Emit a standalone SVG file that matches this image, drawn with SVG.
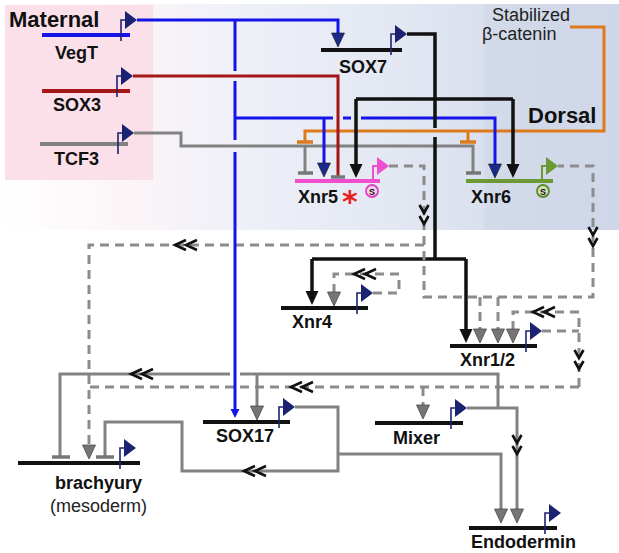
<svg xmlns="http://www.w3.org/2000/svg" width="619" height="553" viewBox="0 0 619 553">
<defs>
<linearGradient id="bg" x1="0" y1="0" x2="619" y2="0" gradientUnits="userSpaceOnUse">
<stop offset="0" stop-color="#ffffff"/>
<stop offset="0.2" stop-color="#fcf5f8"/>
<stop offset="0.4" stop-color="#eef0f8"/>
<stop offset="0.65" stop-color="#e2e7f2"/>
<stop offset="0.78" stop-color="#dae0ee"/>
<stop offset="0.785" stop-color="#d3dbea"/>
<stop offset="1" stop-color="#ced6e8"/>
</linearGradient>
<marker id="aBlack" markerUnits="userSpaceOnUse" markerWidth="14" markerHeight="13" refX="4" refY="6.5" orient="auto" overflow="visible"><path d="M0,0 L14,6.5 L0,13 z" fill="#111"/></marker>
<marker id="aNavy" markerUnits="userSpaceOnUse" markerWidth="14" markerHeight="13" refX="4" refY="6.5" orient="auto" overflow="visible"><path d="M0,0 L14,6.5 L0,13 z" fill="#1b2a8a" stroke="#111" stroke-width="0.6"/></marker>
<marker id="aGray" markerUnits="userSpaceOnUse" markerWidth="14" markerHeight="13" refX="4" refY="6.5" orient="auto" overflow="visible"><path d="M0,0 L14,6.5 L0,13 z" fill="#757575" stroke="#4a4a4a" stroke-width="0.8"/></marker>
<marker id="aBlueS" markerUnits="userSpaceOnUse" markerWidth="9" markerHeight="9" refX="3" refY="4.5" orient="auto" overflow="visible"><path d="M0,0 L9,4.5 L0,9 z" fill="#1414e8"/></marker>
<g id="prom"><path d="M0,6 V-15 H4" fill="none" stroke="#1c2272" stroke-width="1.6"/><path d="M4,-24 L4,-6 L16,-15 z" fill="#1c2272"/></g>
<g id="promM"><path d="M0,0 V-15 H4" fill="none" stroke="#ee4fce" stroke-width="2"/><path d="M4,-24 L4,-6 L16,-15 z" fill="#ee4fce"/></g>
<g id="promG"><path d="M0,0 V-15 H4" fill="none" stroke="#6b9a34" stroke-width="2"/><path d="M4,-24 L4,-6 L16,-15 z" fill="#6b9a34"/></g>
<path id="chL" d="M12,-5 L1,0 L12,5 M23,-5 L12,0 L23,5" fill="none" stroke="#111" stroke-width="2.6"/>
<path id="chD" d="M-4.5,-4 L0,4 L4.5,-4 M-4.5,7 L0,15 L4.5,7" fill="none" stroke="#111" stroke-width="2.6"/>
</defs>
<style>
.ln{fill:none;stroke-linejoin:miter;stroke-linecap:butt}
.blue{stroke:#1414e8;stroke-width:3}
.red{stroke:#a51616;stroke-width:3}
.gray{stroke:#828282;stroke-width:3}
.dash{stroke:#8c8c8c;stroke-width:3;stroke-dasharray:9 6}
.blk{stroke:#111;stroke-width:3.5}
.orange{stroke:#dd7a1c;stroke-width:3}
.gbar{stroke:#777;stroke-width:3.5}
.obar{stroke:#dd7a1c;stroke-width:3.5}
.gene{stroke-width:4}
.lab{font-family:"Liberation Sans",Arial,sans-serif;font-weight:bold;font-size:18px;fill:#111}
.big{font-size:22px}
.reg{font-weight:normal;fill:#222}
.s{font-family:"Liberation Sans",Arial,sans-serif;font-weight:bold;font-size:9px;fill:#111;text-anchor:middle}
</style>

<g id="background">
<rect x="0" y="4" width="619" height="226" fill="url(#bg)"/>
<rect x="5" y="5" width="148" height="175" fill="#fbdfe9"/>
</g>

<g id="connectors">
<path class="ln gray" d="M134,133 H181 V146 H473 V172"/>
<path class="ln gbar" d="M466,173 H481"/>
<path class="ln gray" d="M305,146 V172"/>
<path class="ln gbar" d="M298,173 H313"/>
<path class="ln orange" d="M570,27 H604 V131 H305 V141"/>
<path class="ln obar" d="M297,142 H313"/>
<path class="ln orange" d="M468,131 V141"/>
<path class="ln obar" d="M460,142 H476"/>
<path class="ln blue" d="M137,20 H338 V37" marker-end="url(#aNavy)"/>
<path class="ln blue" d="M235,20 V71"/>
<path class="ln blue" d="M235,81 V140"/>
<path class="ln blue" d="M235,118 H333"/>
<path class="ln blue" d="M343,118 H351"/>
<path class="ln blue" d="M361,118 H495 V168" marker-end="url(#aNavy)"/>
<path class="ln blue" d="M324,118 V167" marker-end="url(#aNavy)"/>
<path class="ln red" d="M133,76 H338 V176"/>
<path class="ln gbar" d="M331,177 H345"/>
<path class="ln blk" d="M407,34 H435 V128"/>
<path class="ln blk" d="M435,137 V259"/>
<path class="ln blk" d="M312,259 H466"/>
<path class="ln blk" d="M312,259 V295" marker-end="url(#aBlack)"/>
<path class="ln blk" d="M466,259 V333" marker-end="url(#aBlack)"/>
<path class="ln blk" d="M356,99 H513"/>
<path class="ln blk" d="M356,99 V168" marker-end="url(#aBlack)"/>
<path class="ln blk" d="M513,99 V168" marker-end="url(#aBlack)"/>
<path class="ln dash" d="M389,166 H424 V297 H593 V166 H558"/>
<path class="ln dash" d="M424,245 H89 V449" marker-end="url(#aGray)"/>
<path class="ln dash" d="M480,297 V333" marker-end="url(#aGray)"/>
<path class="ln dash" d="M498,297 V333" marker-end="url(#aGray)"/>
<path class="ln dash" d="M373,293 H399 V274 H334 V296" marker-end="url(#aGray)"/>
<path class="ln dash" d="M542,331 H579"/>
<path class="ln dash" d="M579,387 V312 H513 V333" marker-end="url(#aGray)"/>
<path class="ln dash" d="M579,387 H89"/>
<path class="ln dash" d="M423,387 V409" marker-end="url(#aGray)"/>
<path class="ln gray" d="M467,408 H517 V513" marker-end="url(#aGray)"/>
<path class="ln gray" d="M498,408 V374 H240"/>
<path class="ln gray" d="M230,374 H60 V456"/>
<path class="ln gbar" d="M52,457 H70"/>
<path class="ln gray" d="M257,374 V410" marker-end="url(#aGray)"/>
<path class="ln gray" d="M295,407 H338 V471 H182 V422 H105 V456"/>
<path class="ln gbar" d="M96,457 H114"/>
<path class="ln gray" d="M338,454 H501 V513" marker-end="url(#aGray)"/>
<path class="ln blue" d="M235,152 V412" marker-end="url(#aBlueS)"/>
<use href="#chL" x="174" y="245"/>
<use href="#chL" x="353" y="274"/>
<use href="#chL" x="532" y="312"/>
<use href="#chL" x="290" y="387"/>
<use href="#chL" x="130" y="374"/>
<use href="#chL" x="243" y="471"/>
<use href="#chD" x="424" y="209"/>
<use href="#chD" x="593" y="231"/>
<use href="#chD" x="579" y="354"/>
<use href="#chD" x="517" y="439"/>
</g>

<g id="maternal-label"><text class="lab big" x="9" y="27">Maternal</text></g>
<g id="dorsal-label"><text class="lab big" x="528" y="123">Dorsal</text></g>
<g id="beta-catenin"><text class="lab reg" x="492" y="21">Stabilized</text><text class="lab reg" x="482" y="40">β-catenin</text></g>

<g id="VegT"><path class="ln blue gene" d="M42,35 H130"/><use href="#prom" x="121" y="35"/><text class="lab" x="55" y="59">VegT</text></g>
<g id="SOX3"><path class="ln red gene" d="M42,91 H130"/><use href="#prom" x="117" y="91"/><text class="lab" x="53" y="111">SOX3</text></g>
<g id="TCF3"><path class="ln gray gene" d="M40,144 H128"/><use href="#prom" x="118" y="148"/><text class="lab" x="54" y="165">TCF3</text></g>
<g id="SOX7"><path class="ln blk gene" d="M321,50 H402"/><use href="#prom" x="391" y="49"/><text class="lab" x="339" y="73">SOX7</text></g>
<g id="Xnr5"><path class="ln gene" stroke="#ee4fce" d="M295,181 H380"/><use href="#promM" x="373" y="181"/>
<circle cx="372" cy="191" r="6" fill="#fbd3f0" stroke="#e040c0" stroke-width="1.8"/><text class="s" x="372" y="194.5">S</text>
<text class="lab" x="298" y="203">Xnr5</text>
<text x="342" y="212" font-family="DejaVu Sans,sans-serif" font-weight="bold" font-size="30" fill="#e82020">*</text></g>
<g id="Xnr6"><path class="ln gene" stroke="#6b9a34" d="M466,181 H553"/><use href="#promG" x="542" y="181"/>
<circle cx="543" cy="191" r="6" fill="#cfe0b8" stroke="#5a8a2a" stroke-width="1.8"/><text class="s" x="543" y="194.5">S</text>
<text class="lab" x="471" y="203">Xnr6</text></g>
<g id="Xnr4"><path class="ln blk gene" d="M281,308 H368"/><use href="#prom" x="357" y="308"/><text class="lab" x="292" y="328">Xnr4</text></g>
<g id="Xnr1-2"><path class="ln blk gene" d="M450,346 H537"/><use href="#prom" x="526" y="346"/><text class="lab" x="460" y="366">Xnr1/2</text></g>
<g id="SOX17"><path class="ln blk gene" d="M203,422 H290"/><use href="#prom" x="279" y="422"/><text class="lab" x="216" y="442">SOX17</text></g>
<g id="Mixer"><path class="ln blk gene" d="M375,423 H463"/><use href="#prom" x="451" y="423"/><text class="lab" x="393" y="444">Mixer</text></g>
<g id="brachyury"><path class="ln blk gene" d="M18,463 H140"/><use href="#prom" x="120" y="463"/><text class="lab" x="55" y="489">brachyury</text><text class="lab reg" x="50" y="512">(mesoderm)</text></g>
<g id="Endodermin"><path class="ln blk gene" d="M469,528 H557"/><use href="#prom" x="545" y="528"/><text class="lab" x="471" y="548">Endodermin</text></g>
</svg>
